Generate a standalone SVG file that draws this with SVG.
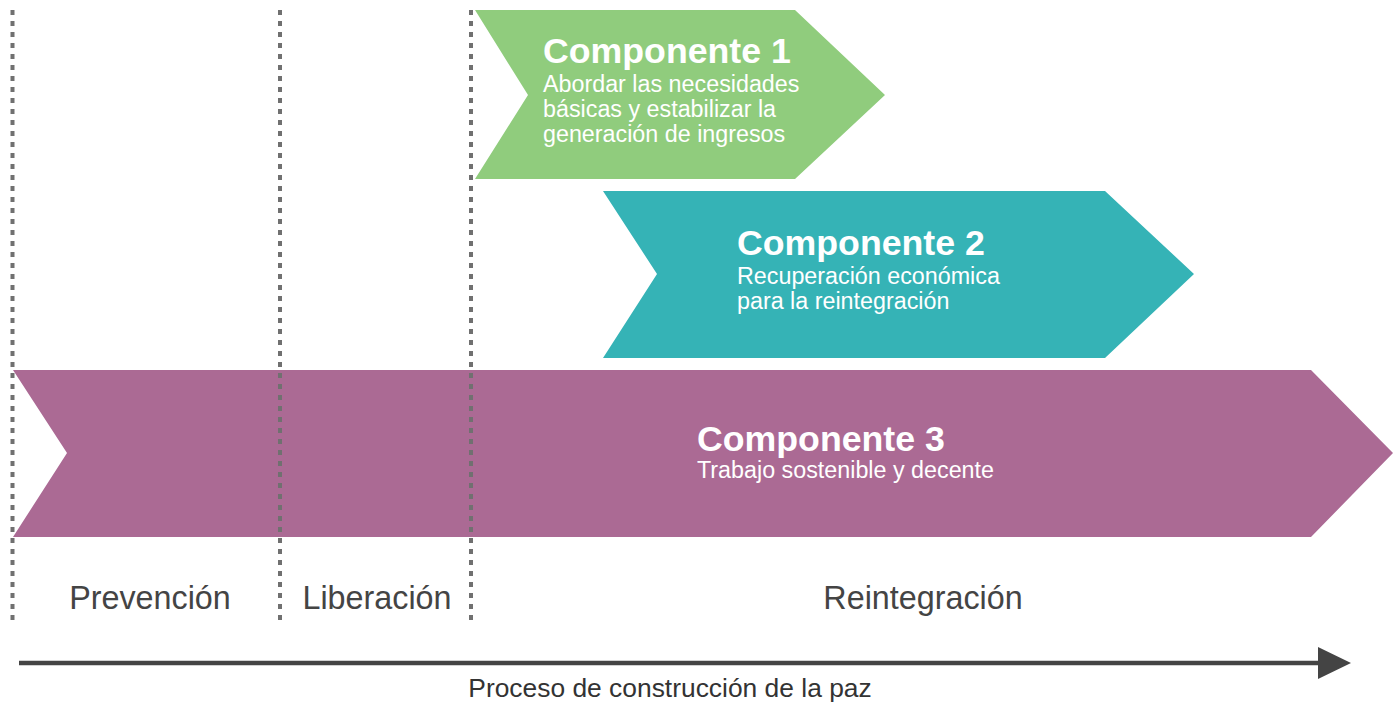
<svg xmlns="http://www.w3.org/2000/svg" width="1393" height="704" viewBox="0 0 1393 704">
<style>
.title{font-family:"Liberation Sans",Arial,sans-serif;font-weight:bold;font-size:35.7px;fill:#ffffff}
.sub{font-family:"Liberation Sans",Arial,sans-serif;font-size:23.3px;fill:#ffffff}
.phase{font-family:"Liberation Sans",Arial,sans-serif;font-size:32.3px;fill:#444444}
.axis{font-family:"Liberation Sans",Arial,sans-serif;font-size:26.4px;fill:#333333}
.sep{stroke:#707070;stroke-width:4;stroke-dasharray:5 6;fill:none}
</style>
<defs>
<marker id="arrowhead" markerUnits="userSpaceOnUse" markerWidth="34" markerHeight="32" refX="0" refY="16" orient="auto">
<path d="M0,0 L33,16 L0,32 Z" fill="#444444"/>
</marker>
</defs>
<rect width="1393" height="704" fill="#ffffff"/>
<g id="componente3">
<polygon points="13,370 1311,370 1393,453 1311,537 13,537 67,453" fill="#ab6a94"/>
<text class="title" x="697" y="451">Componente 3</text>
<text class="sub" x="697" y="478">Trabajo sostenible y decente</text>
</g>
<g id="componente2">
<polygon points="603,191 1105,191 1194,274 1105,358 603,358 657,274" fill="#35b3b6"/>
<text class="title" x="737" y="255">Componente 2</text>
<text class="sub" x="737" y="284">Recuperación económica</text>
<text class="sub" x="737" y="309">para la reintegración</text>
</g>
<g id="componente1">
<polygon points="475,10 795,10 885,95 795,179 475,179 528,95" fill="#90cc7d"/>
<text class="title" x="543" y="63">Componente 1</text>
<text class="sub" x="543" y="92">Abordar las necesidades</text>
<text class="sub" x="543" y="117">básicas y estabilizar la</text>
<text class="sub" x="543" y="142">generación de ingresos</text>
</g>
<g id="separadores">
<line class="sep" x1="12.5" y1="10" x2="12.5" y2="622"/>
<line class="sep" x1="280" y1="10" x2="280" y2="622"/>
<line class="sep" x1="471" y1="10" x2="471" y2="622"/>
</g>
<g id="fases">
<text class="phase" x="150" y="609" text-anchor="middle">Prevención</text>
<text class="phase" x="377" y="609" text-anchor="middle">Liberación</text>
<text class="phase" x="923" y="609" text-anchor="middle">Reintegración</text>
</g>
<g id="connectors">
<line x1="19" y1="663" x2="1318" y2="663" stroke="#444444" stroke-width="4.5" marker-end="url(#arrowhead)"/>
</g>
<g id="eje">
<text class="axis" x="670" y="697" text-anchor="middle">Proceso de construcción de la paz</text>
</g>
</svg>
